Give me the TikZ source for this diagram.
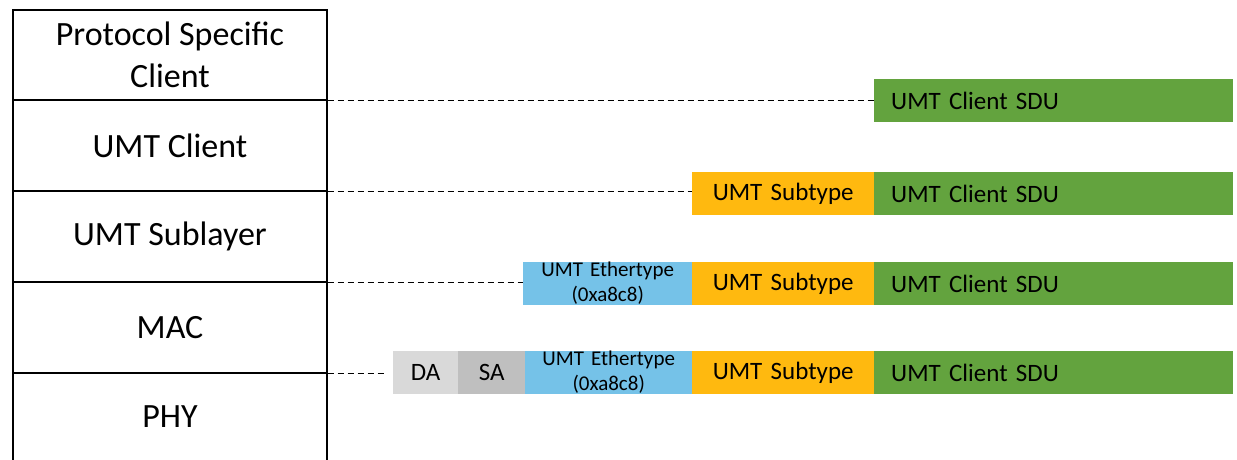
\documentclass[tikz,border=0pt]{standalone}
\usepackage{fontspec}
\setmainfont{Carlito}
\definecolor{sdugreen}{RGB}{99,163,62}
\definecolor{suborange}{RGB}{255,185,15}
\definecolor{ethblue}{RGB}{117,194,232}
\definecolor{dagray}{RGB}{217,217,217}
\definecolor{sagray}{RGB}{191,191,191}
\tikzset{
  layer/.style={draw=black, line width=1.3pt, minimum width=314pt, inner sep=0pt, align=center,
    font=\fontsize{34}{42}\selectfont},
  seg/.style={anchor=west, inner xsep=0pt, inner ysep=0pt, minimum height=43pt, align=center,
    font=\fontsize{25}{30}\selectfont},
  ethseg/.style={seg, fill=ethblue, font=\fontsize{21}{25}\selectfont},
  sduseg/.style={seg, fill=sdugreen, text width=325pt, inner xsep=17pt, align=left},
  subseg/.style={seg, fill=suborange, text width=182pt},
  link/.style={line width=1.1pt, dash pattern=on 6pt off 4pt}
}
\begin{document}
\begin{tikzpicture}[x=1pt,y=-1pt]
\clip (0,0) rectangle (1237,460);
\fill[white] (0,0) rectangle (1237,460);
% layer stack
\node[layer, minimum height=90pt] (psc) at (170,55) {Protocol Specific\\Client};
\node[layer, minimum height=91pt] (umtc) at (170,145.5) {UMT Client};
\node[layer, minimum height=91pt] (umts) at (170,236.5) {UMT Sublayer};
\node[layer, minimum height=91pt] (mac) at (170,327.5) {MAC};
\node[layer, minimum height=100pt] (phy) at (170,423) {};
\node[font=\fontsize{34}{42}\selectfont] (phyt) at (170,417) {PHY};
% row 1
\node[sduseg] (r1sdu) at (874,100.5) {UMT Client SDU};
% row 2
\node[subseg] (r2sub) at (692,193.5) {UMT Subtype};
\node[sduseg] (r2sdu) at (874,193.5) {UMT Client SDU};
% row 3
\node[ethseg, text width=169pt] (r3eth) at (523,283.5) {UMT Ethertype\\(0xa8c8)};
\node[subseg] (r3sub) at (692,283.5) {UMT Subtype};
\node[sduseg] (r3sdu) at (874,283.5) {UMT Client SDU};
% row 4
\node[seg, fill=dagray, text width=65pt] (r4da) at (393,372.5) {DA};
\node[seg, fill=sagray, text width=67pt] (r4sa) at (458,372.5) {SA};
\node[ethseg, text width=167pt] (r4eth) at (525,372.5) {UMT Ethertype\\(0xa8c8)};
\node[subseg] (r4sub) at (692,372.5) {UMT Subtype};
\node[sduseg] (r4sdu) at (874,372.5) {UMT Client SDU};
% dashed connectors
\draw[link] (psc.south east) -- (psc.south east -| r1sdu.west);
\draw[link] (umtc.south east) -- (umtc.south east -| r2sub.west);
\draw[link] (umts.south east) -- (umts.south east -| r3eth.west);
\draw[link] (mac.south east) -- ([xshift=-8pt]mac.south east -| r4da.west);
\end{tikzpicture}
\end{document}
